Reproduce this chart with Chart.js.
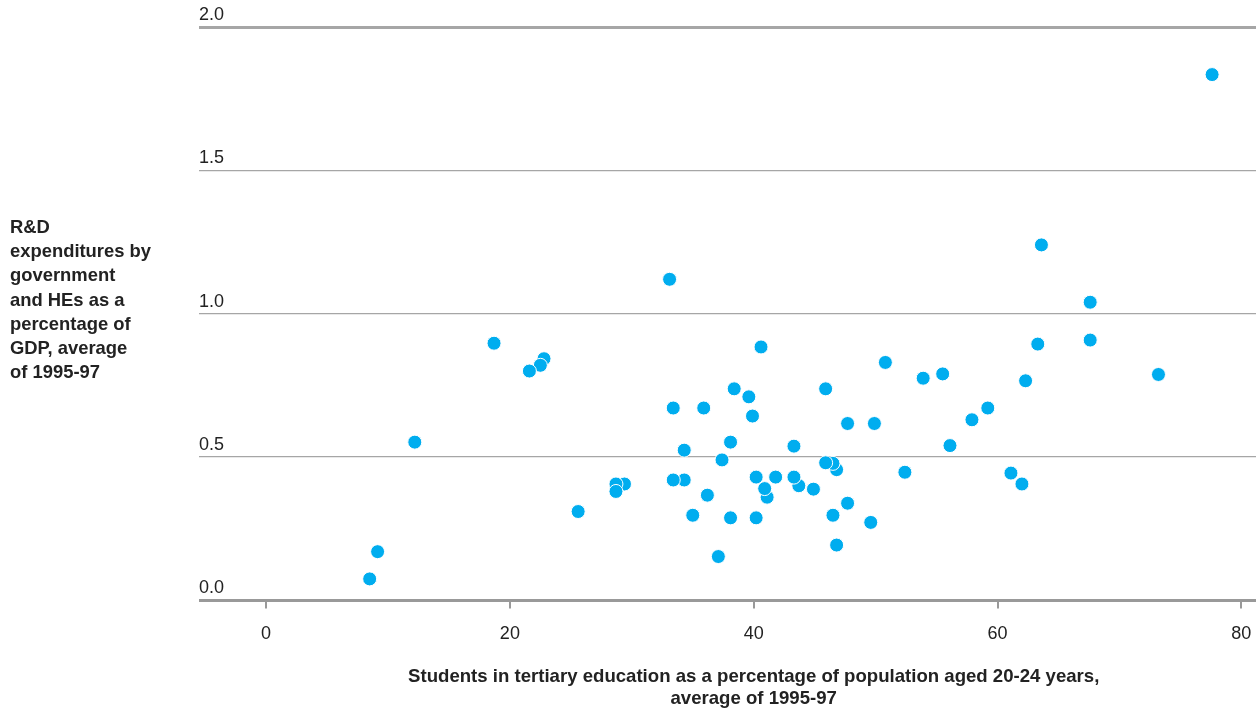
<!DOCTYPE html>
<html>
<head>
<meta charset="utf-8">
<script src="https://cdn.jsdelivr.net/npm/chart.js@4"></script>
<style>
  body { margin: 0; background: #fff; }
  #wrap { width: 1256px; height: 713px; }
</style>
</head>
<body>
<div id="wrap"><canvas id="myChart-scatter"></canvas></div>
<script>
// students in tertiary education (% of pop. aged 20-24), avg 1995-97
const students = [77.6, 63.6, 67.6, 67.6, 73.2, 63.3, 62.3, 62.0, 61.1, 59.2,
  57.9, 56.1, 55.5, 53.9, 52.4, 50.8, 49.9, 49.6, 47.7, 47.7,
  46.8, 46.8, 46.5, 46.5, 45.9, 45.9, 44.9, 43.7, 43.3, 43.3,
  41.8, 41.1, 40.9, 40.6, 40.2, 40.2, 39.9, 39.6, 38.4, 38.1,
  38.1, 37.4, 37.1, 36.2, 35.9, 35.0, 34.3, 34.3, 33.4, 33.4,
  33.1, 29.4, 28.7, 28.7, 25.6, 22.8, 22.5, 21.6, 18.7, 12.2,
  9.15, 8.5];
// R&D expenditures by government and HEs (% of GDP), avg 1995-97
const rdSpend = [1.834, 1.24, 1.04, 0.908, 0.788, 0.894, 0.766, 0.406, 0.444, 0.671,
  0.63, 0.54, 0.79, 0.775, 0.447, 0.83, 0.617, 0.272, 0.617, 0.339,
  0.193, 0.456, 0.478, 0.297, 0.738, 0.48, 0.388, 0.40, 0.538, 0.43,
  0.43, 0.36, 0.39, 0.884, 0.43, 0.288, 0.643, 0.71, 0.738, 0.552,
  0.288, 0.49, 0.153, 0.367, 0.671, 0.297, 0.524, 0.42, 0.42, 0.671,
  1.12, 0.406, 0.406, 0.38, 0.31, 0.843, 0.82, 0.80, 0.897, 0.552,
  0.17, 0.075];

const xTicks = [0, 20, 40, 60, 80];
const yTicks = [0, 0.5, 1, 1.5, 2];
const yTitle = ['R&D', 'expenditures by', 'government', 'and HEs as a',
  'percentage of', 'GDP, average', 'of 1995-97'];
const xTitle = ['Students in tertiary education as a percentage of population aged 20-24 years,',
  'average of 1995-97'];

const points = students.map((x, i) => ({ x: x, y: rdSpend[i] }));

// axis titles are drawn by hand: horizontal y title, x title centred on 0..80
const titlesPlugin = {
  id: 'titles',
  afterDraw(chart) {
    const c = chart.ctx;
    const xs = chart.scales.x;
    c.save();
    c.fillStyle = '#222';
    c.textBaseline = 'alphabetic';
    c.font = 'bold 18.4px "Liberation Sans", Arial, sans-serif';
    c.textAlign = 'left';
    yTitle.forEach((t, i) => c.fillText(t, 10, 233 + i * 24.2));
    c.font = 'bold 18.6px "Liberation Sans", Arial, sans-serif';
    c.textAlign = 'center';
    const cx = (xs.getPixelForValue(0) + xs.getPixelForValue(80)) / 2;
    xTitle.forEach((t, i) => c.fillText(t, cx, 682 + i * 22));
    c.restore();
  }
};

const ctx = document.getElementById('myChart-scatter');
new Chart(ctx, {
  type: 'scatter',
  data: {
    datasets: [{
      data: points,
      backgroundColor: '#00adef',
      borderColor: '#ffffff',
      borderWidth: 1,
      pointRadius: 7,
      pointHoverRadius: 7
    }]
  },
  options: {
    responsive: true,
    maintainAspectRatio: false,
    animation: false,
    layout: { autoPadding: false, padding: { left: 199, right: 0, top: 27, bottom: 53 } },
    plugins: {
      legend: { display: false },
      tooltip: { enabled: false }
    },
    scales: {
      x: {
        type: 'linear',
        min: -5.5,
        max: 81.2,
        afterBuildTicks: s => { s.ticks = xTicks.map(v => ({ value: v })); },
        afterFit: s => { s.paddingLeft = 0; s.paddingRight = 0; },
        border: { display: false },
        grid: {
          drawOnChartArea: false,
          drawTicks: true,
          tickLength: 8,
          tickColor: '#999',
          lineWidth: 2
        },
        ticks: {
          color: '#222',
          padding: 15,
          maxRotation: 0,
          font: { family: '"Liberation Sans", Arial, sans-serif', size: 18 }
        }
      },
      y: {
        type: 'linear',
        min: 0,
        max: 2,
        afterBuildTicks: s => { s.ticks = yTicks.map(v => ({ value: v })); },
        border: { display: false },
        grid: {
          drawTicks: false,
          color: ctx => (ctx.tick && ctx.tick.value === 0) ? '#999' : '#a6a6a6',
          lineWidth: ctx => {
            if (!ctx.tick) return 1;
            if (ctx.tick.value === 0 || ctx.tick.value === 2) return 3;
            return 1.3;
          }
        },
        ticks: {
          mirror: true,
          padding: 0,
          labelOffset: -12,
          color: '#222',
          callback: v => v.toFixed(1),
          font: { family: '"Liberation Sans", Arial, sans-serif', size: 18 }
        }
      }
    }
  },
  plugins: [titlesPlugin]
});
</script>
</body>
</html>
